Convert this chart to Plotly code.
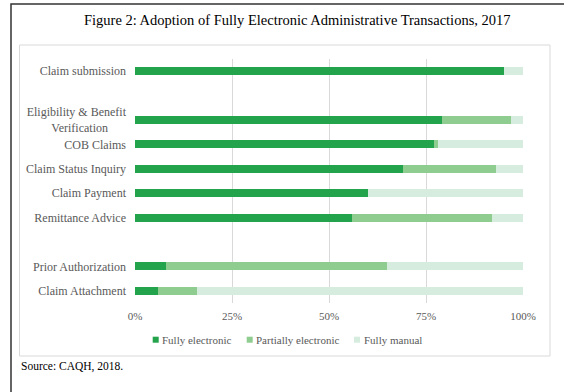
import plotly.graph_objects as go

categories = ["Claim submission", " ", "Eligibility & Benefit<br>Verification" + "\u00a0" * 6, "COB Claims",
              "Claim Status Inquiry", "Claim Payment", "Remittance Advice", "  ",
              "Prior Authorization", "Claim Attachment"]
fully_electronic = [95, None, 79, 77, 69, 60, 56, None, 8, 6]
partially_electronic = [0, None, 18, 1, 24, 0, 36, None, 57, 10]
fully_manual = [5, None, 3, 22, 7, 40, 8, None, 35, 84]
series_names = ["Fully electronic", "Partially electronic", "Fully manual"]
colors = ["#23A34B", "#8FCC8F", "#D5ECDE"]
tick_vals = [0, 25, 50, 75, 100]
tick_text = ["0%", "25%", "50%", "75%", "100%"]

W, H = 564, 392
L, R, T, B = 135, 41, 59, 89
PW, PH = W - L - R, H - T - B


def px(x):
    return (x - L) / PW


def py(y):
    return (H - B - y) / PH


fig = go.Figure()
for name, vals, c in zip(series_names, [fully_electronic, partially_electronic, fully_manual], colors):
    fig.add_trace(go.Bar(y=categories, x=vals, orientation="h", name=name,
                         marker=dict(color=c, line=dict(width=0)), showlegend=False))

grey = "#595959"
font = "Liberation Serif, Times New Roman, serif"

shapes = [
    dict(type="path", xref="paper", yref="paper",
         path=f"M {px(11)} {py(400)} L {px(11)} {py(4)} L {px(570)} {py(4)}",
         line=dict(color="#333333", width=1.5)),
    dict(type="rect", xref="paper", yref="paper", x0=px(19.5), x1=px(550), y0=py(45), y1=py(356),
         line=dict(color="#D9D9D9", width=1), fillcolor="rgba(0,0,0,0)", layer="below"),
]
annotations = [
    dict(text="Figure 2: Adoption of Fully Electronic Administrative Transactions, 2017",
         xref="paper", yref="paper", x=px(297), y=py(20), xanchor="center", yanchor="middle",
         showarrow=False, font=dict(family=font, size=14.5, color="black")),
    dict(text="Source: CAQH, 2018.", xref="paper", yref="paper", x=px(19), y=py(366),
         xanchor="left", yanchor="middle", showarrow=False,
         font=dict(family=font, size=11.5, color="black")),
]

# legend (drawn manually to match the compact original layout)
legend_x = [152.7, 246.7, 354.0]
legend_y = 339.7
for name, c, lx in zip(series_names, colors, legend_x):
    shapes.append(dict(type="rect", xref="paper", yref="paper", x0=px(lx), x1=px(lx + 6),
                       y0=py(legend_y - 3), y1=py(legend_y + 3), fillcolor=c, line=dict(width=0)))
    annotations.append(dict(text=name, xref="paper", yref="paper", x=px(lx + 7.5), y=py(legend_y),
                            xanchor="left", yanchor="middle", showarrow=False,
                            font=dict(family=font, size=11, color=grey)))

fig.update_layout(
    width=W, height=H,
    margin=dict(l=L, r=R, t=T, b=B),
    paper_bgcolor="white", plot_bgcolor="white",
    barmode="stack", bargap=0.67, showlegend=False,
    font=dict(family=font, color=grey, size=12),
    xaxis=dict(range=[0, 100], tickvals=tick_vals, ticktext=tick_text, showgrid=True,
               gridcolor="#D9D9D9", gridwidth=1, zeroline=False, showline=False,
               tickfont=dict(size=11, color=grey), ticks="", ticklabelstandoff=5),
    yaxis=dict(type="category", categoryorder="array", categoryarray=categories,
               autorange="reversed", showgrid=False, zeroline=False, showline=False,
               ticks="", tickfont=dict(size=12, color=grey), ticklabelstandoff=8),
    shapes=shapes,
    annotations=annotations,
)

fig.write_html("out.html")
